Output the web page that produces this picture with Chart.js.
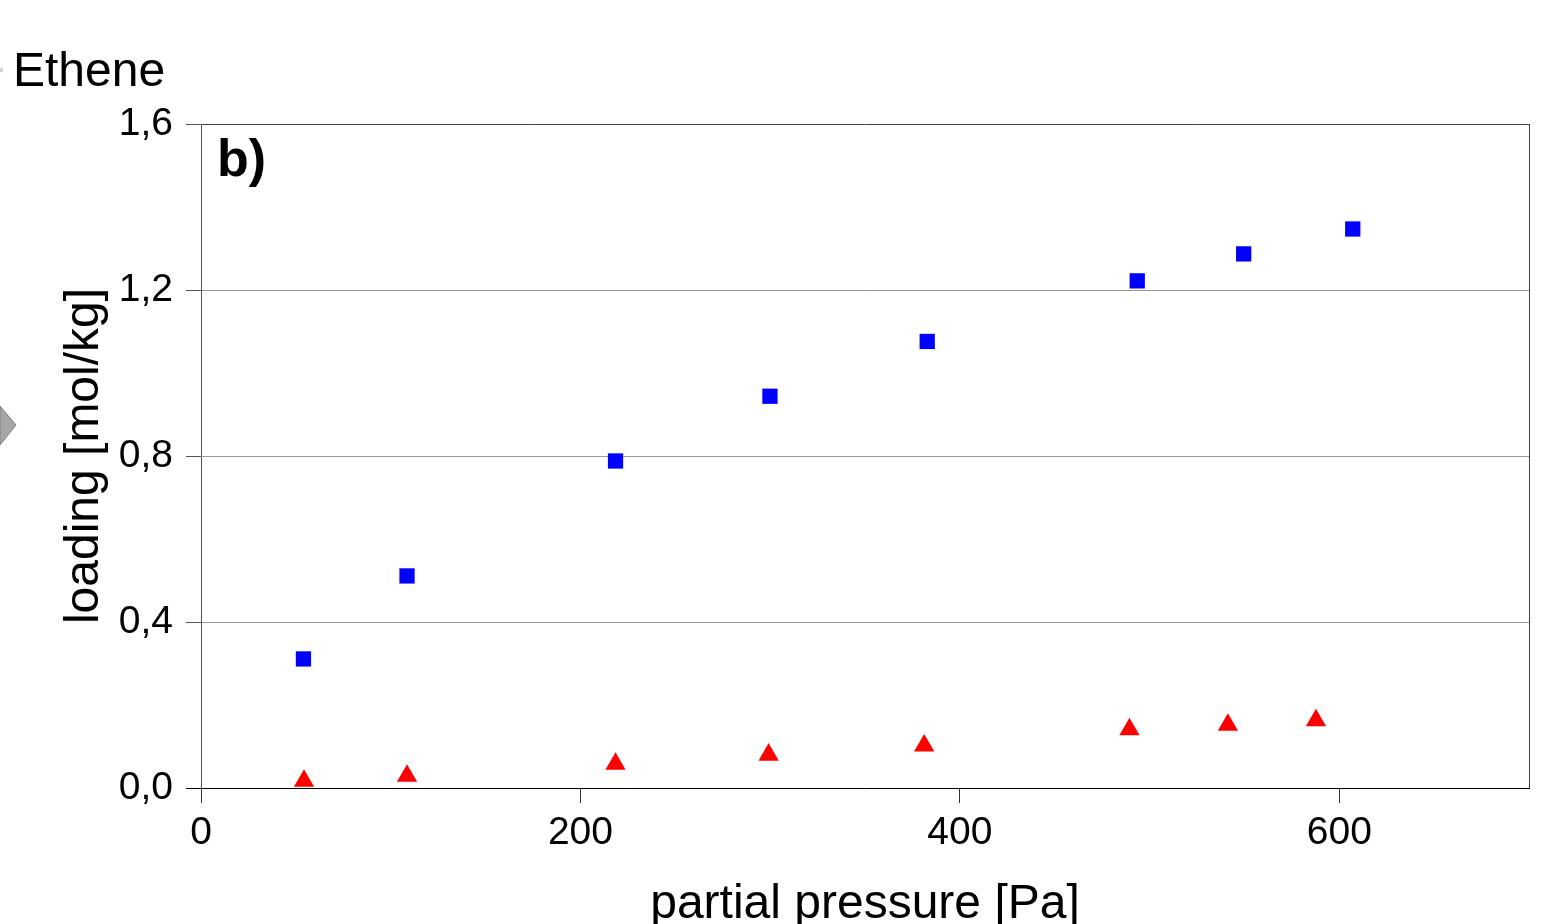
<!DOCTYPE html>
<html>
<head>
<meta charset="utf-8">
<script src="https://cdn.jsdelivr.net/npm/chart.js@4.4.1/dist/chart.umd.min.js"></script>
<style>
  html, body { margin: 0; padding: 0; background: #fff; overflow: hidden; }
  canvas { display: block; }
</style>
</head>
<body>
<canvas id="chart" width="1548" height="924"></canvas>
<script>
// values
const pressureBlue = [54.0, 108.6, 218.5, 299.9, 382.8, 493.5, 549.6, 607.1];
const loadingBlue = [0.311, 0.511, 0.788, 0.944, 1.076, 1.222, 1.287, 1.347];
const pressureRed = [54.3, 108.6, 218.5, 299.2, 381.2, 489.4, 541.3, 587.7];
const loadingRed = [0.017, 0.029, 0.058, 0.080, 0.102, 0.141, 0.152, 0.163];
const xTicks = [0, 200, 400, 600];
const yTicks = [0, 0.4, 0.8, 1.2, 1.6];

const FONT = "'Liberation Sans', Arial, sans-serif";

const toPoints = (xs, ys) => xs.map((x, i) => ({ x: x, y: ys[i] }));

// frame on top/right, panel label and the bits cut off at the left edge
const extras = {
  id: 'extras',
  afterDatasetsDraw(chart) {
    const { ctx, chartArea } = chart;
    ctx.save();
    ctx.strokeStyle = '#404040';
    ctx.lineWidth = 1;
    ctx.beginPath();
    ctx.moveTo(Math.round(chartArea.right) + 0.5, chartArea.top);
    ctx.lineTo(Math.round(chartArea.right) + 0.5, chartArea.bottom);
    ctx.stroke();

    ctx.fillStyle = '#000';
    ctx.textBaseline = 'alphabetic';
    ctx.textAlign = 'left';
    ctx.font = 'bold 52px ' + FONT;
    ctx.fillText('b)', 217, 176);

    ctx.font = '48px ' + FONT;
    ctx.fillText('Ethene', 13, 86);

    // edge of a legend marker cut off by the crop
    ctx.fillStyle = '#cfcff0';
    ctx.fillRect(0, 68, 3, 4);

    ctx.fillStyle = '#a6a6a6';
    ctx.strokeStyle = '#7f7f7f';
    ctx.beginPath();
    ctx.moveTo(0, 406);
    ctx.lineTo(16, 425);
    ctx.lineTo(0, 445);
    ctx.closePath();
    ctx.fill();
    ctx.stroke();
    ctx.restore();
  }
};

new Chart(document.getElementById('chart').getContext('2d'), {
  type: 'scatter',
  data: {
    datasets: [
      {
        label: 'blue',
        data: toPoints(pressureBlue, loadingBlue),
        pointStyle: 'rect',
        pointRadius: 10.8,
        backgroundColor: '#0000ff',
        borderWidth: 0,
      },
      {
        label: 'red',
        data: toPoints(pressureRed, loadingRed),
        pointStyle: 'triangle',
        pointRadius: 11.7,
        backgroundColor: '#ff0000',
        borderWidth: 0,
      },
    ],
  },
  options: {
    responsive: false,
    animation: false,
    events: [],
    layout: { padding: { top: 124, right: 19, left: 0, bottom: 0 } },
    plugins: {
      legend: { display: false },
      tooltip: { enabled: false },
    },
    scales: {
      x: {
        type: 'linear',
        min: 0,
        max: 700,
        afterBuildTicks: (scale) => {
          scale.ticks = xTicks.map((v) => ({ value: v }));
        },
        afterFit: (scale) => { scale.height = 136; },
        ticks: {
          color: '#000',
          font: { family: FONT, size: 39, lineHeight: 1.2 },
          padding: 7,
          maxRotation: 0,
          callback: (v) => String(v),
        },
        grid: {
          drawOnChartArea: false,
          drawTicks: true,
          tickLength: 15,
          tickColor: '#333',
        },
        border: { color: '#000', width: 1 },
        title: {
          display: true,
          text: 'partial pressure [Pa]',
          color: '#000',
          font: { family: FONT, size: 48, lineHeight: 0.8 },
          padding: 0,
        },
      },
      y: {
        type: 'linear',
        min: 0,
        max: 1.6,
        afterBuildTicks: (scale) => {
          scale.ticks = yTicks.map((v) => ({ value: v }));
        },
        afterFit: (scale) => { scale.width = 201; },
        ticks: {
          color: '#000',
          font: { family: FONT, size: 39 },
          padding: 13,
          callback: (v) => Number(v).toFixed(1).replace('.', ','),
        },
        grid: {
          tickLength: 15,
          color: (c) => {
            if (!c.tick) return '#999';
            if (c.tick.value === 0) return 'rgba(0,0,0,0)';
            if (c.tick.value >= 1.6) return '#404040';
            return '#999';
          },
          tickColor: (c) => (c.tick && c.tick.value === 0 ? '#000' : '#555'),
        },
        border: { color: '#555', width: 1 },
        title: {
          display: true,
          text: 'loading [mol/kg]',
          color: '#000',
          font: { family: FONT, size: 48, lineHeight: 1 },
          padding: { top: 61, bottom: 0 },
        },
      },
    },
  },
  plugins: [extras],
});
</script>
</body>
</html>
